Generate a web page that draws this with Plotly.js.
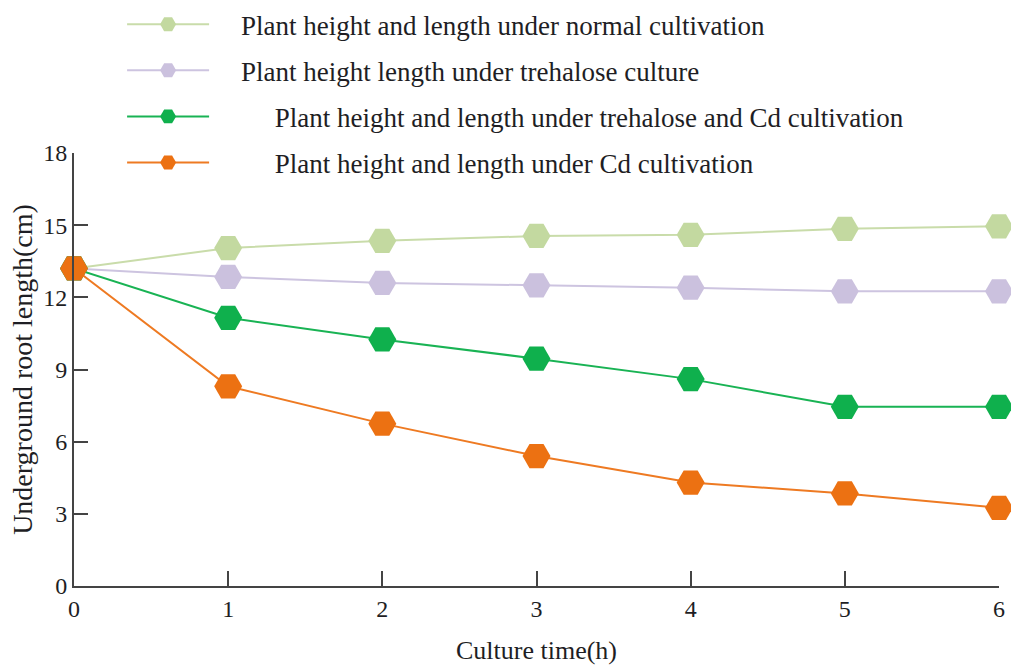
<!DOCTYPE html>
<html>
<head>
<meta charset="utf-8">
<script src="https://cdn.plot.ly/plotly-3.0.1.min.js"></script>
<style>html,body{margin:0;padding:0;background:#fff;}#chart{width:1011px;height:665px;}</style>
</head>
<body>
<div id="chart"></div>
<script>
const cultureTime = [0, 1, 2, 3, 4, 5, 6];
const normalCultivation = [13.2, 14.05, 14.35, 14.55, 14.6, 14.85, 14.95];
const trehaloseCulture = [13.2, 12.85, 12.6, 12.5, 12.4, 12.25, 12.25];
const trehaloseCdCultivation = [13.2, 11.15, 10.25, 9.45, 8.6, 7.45, 7.45];
const cdCultivation = [13.2, 8.3, 6.75, 5.4, 4.3, 3.85, 3.25];
const seriesNames = [
  'Plant height and length under normal cultivation',
  'Plant height length under trehalose culture',
  'Plant height and length under trehalose and Cd cultivation',
  'Plant height and length under Cd cultivation'
];
const nameIndent = [4, 4, 9, 9];
const yTicks = [0, 3, 6, 9, 12, 15, 18];
const xTicks = [0, 1, 2, 3, 4, 5, 6];

const colors = ['#c3d9a0', '#cbc1de', '#0fb04d', '#ec7112'];
const lineColors = ['#c9dcaa', '#cdc4e0', '#19b354', '#ee7a22'];
const series = [normalCultivation, trehaloseCulture, trehaloseCdCultivation, cdCultivation];

const traces = series.map((ys, i) => ({
  x: cultureTime,
  y: ys,
  name: '\u00a0'.repeat(nameIndent[i]) + seriesNames[i],
  type: 'scatter',
  mode: 'lines+markers',
  cliponaxis: false,
  legendgroup: 'g' + i,
  line: {color: lineColors[i], width: 2},
  marker: {symbol: 'hexagon2', size: 28, color: colors[i]}
}));
const serif = 'Liberation Serif, Times New Roman, serif';
const txt = '#1e1e24';
const layout = {
  width: 1011, height: 665,
  margin: {l: 74, r: 12, t: 153, b: 79, autoexpand: false},
  paper_bgcolor: '#fff', plot_bgcolor: '#fff',
  font: {family: serif, size: 24, color: txt},
  showlegend: true,
  legend: {
    x: 0.052, y: 1.353, xanchor: 'left', yanchor: 'top',
    traceorder: 'grouped', tracegroupgap: 8,
    itemwidth: 82, itemsizing: 'trace',
    font: {family: serif, size: 27, color: txt},
    bgcolor: 'rgba(0,0,0,0)'
  },
  xaxis: {
    range: [0, 6], tickvals: xTicks, ticktext: xTicks.map(String),
    ticks: 'inside', ticklen: 15, tickwidth: 2, tickcolor: '#444',
    showline: true, linecolor: '#444', linewidth: 2,
    showgrid: false, zeroline: false,
    tickfont: {family: serif, size: 24, color: txt},
    title: {text: 'Culture time(h)', font: {family: serif, size: 26, color: txt}, standoff: 22}
  },
  yaxis: {
    range: [0, 18], tickvals: yTicks, ticktext: yTicks.map(String),
    ticks: 'inside', ticklen: 14, tickwidth: 2, tickcolor: '#444',
    showline: true, linecolor: '#444', linewidth: 2,
    showgrid: false, zeroline: false,
    tickfont: {family: serif, size: 24, color: txt},
    title: {text: 'Underground root length(cm)', font: {family: serif, size: 28, color: txt}, standoff: 2}
  }
};
Plotly.newPlot('chart', traces, layout, {displayModeBar: false, staticPlot: true});
</script>
</body>
</html>
